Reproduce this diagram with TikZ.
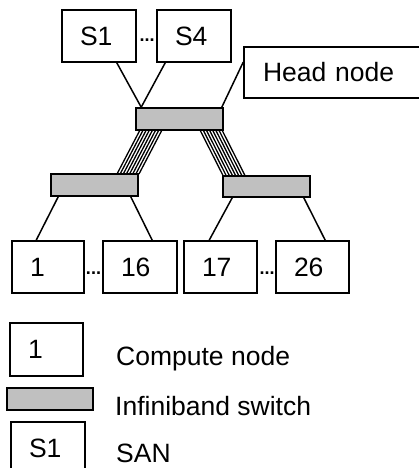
\documentclass[tikz,border=0pt]{standalone}
\usepackage{fontspec}
\setmainfont{Liberation Sans}
\usetikzlibrary{calc}
\definecolor{swgray}{RGB}{192,192,192}
\tikzset{
  lbox/.style={draw, line width=1.6pt, inner xsep=18pt, inner ysep=0pt,
    minimum height=52pt, text width=#1, align=left,
    font=\fontsize{26.5}{31}\selectfont},
  swbox/.style={draw, line width=1.6pt, fill=swgray, inner sep=0pt,
    minimum width=87pt, minimum height=22pt},
  conn/.style={line width=1.5pt},
  bundle/.style={line width=1.3pt},
  dotstxt/.style={anchor=base, inner sep=0pt, font=\fontsize{18}{18}\selectfont\bfseries},
  legtxt/.style={anchor=base west, inner sep=0pt, font=\fontsize{26.5}{31}\selectfont}
}
\begin{document}
\begin{tikzpicture}[x=1pt,y=-1pt]
\useasboundingbox (0,0) rectangle (419,468);

% SAN boxes
\node[lbox=38pt] (s1) at (99,36) {S1};
\node[lbox=38pt] (s4) at (194,36) {S4};
\node[dotstxt] (dtop) at (147,41.5) {...};

% head node (cut by right edge)
\node[lbox=158pt, inner xsep=19pt, minimum height=51pt] (head) at (342,72.5) {Head node};

% switches
\coordinate (tsc) at (179.5,119);
\coordinate (lsc) at (94.5,185);
\coordinate (rsc) at (266.5,186.5);

% bundles (drawn below switches)
\foreach \i in {0,...,7}{
  \draw[bundle] ($(tsc)+(-41.5+2+\i*3.14,11)$) -- ($(lsc)+(43.5-21+\i*3.14,-11)$);
  \draw[bundle] ($(tsc)+(43.5-23+\i*3.14,11)$) -- ($(rsc)+(-43.5+\i*3.14,-11)$);
}

\node[swbox] (tsw) at (tsc) {};
\node[swbox] (lsw) at (lsc) {};
\node[swbox, minimum height=21pt] (rsw) at (rsc) {};

% compute nodes
\node[lbox=36pt] (c1) at (48,267) {1};
\node[lbox=38pt] (c16) at (140,267) {16};
\node[lbox=37pt] (c17) at (220.5,267) {17};
\node[lbox=37pt] (c26) at (312.5,267) {26};
\node[dotstxt] (dl) at (93.5,274.5) {...};
\node[dotstxt] (dr) at (267,274.5) {...};

% connectors
\coordinate (tin) at ([xshift=6pt]tsw.north west);
\draw[conn] ([xshift=-20pt]s1.south east) -- (tin);
\draw[conn] ([xshift=9pt]s4.south west) -- (tin);
\draw[conn] ([yshift=-16pt]head.north west) -- ([xshift=-2pt]tsw.north east);
\draw[conn] ([xshift=8pt]lsw.south west) -- ([xshift=25pt]c1.north west);
\draw[conn] ([xshift=-8pt]lsw.south east) -- ([xshift=50pt]c16.north west);
\draw[conn] ([xshift=10pt]rsw.south west) -- ([xshift=26pt]c17.north west);
\draw[conn] ([xshift=-7pt]rsw.south east) -- ([xshift=50pt]c26.north west);

% legend
\node[lbox=37pt, minimum height=53pt] (lcomp) at (46.5,349.5) {1};
\node[swbox, minimum width=86pt] (lswitch) at (50,399) {};
\node[lbox=38pt] (lsan) at (48,448) {S1};
\node[legtxt] (tcomp) at (116,365) {Compute node};
\node[legtxt] (tsw2) at (115,415) {Infiniband switch};
\node[legtxt] (tsan) at (116,462) {SAN};
\end{tikzpicture}
\end{document}
